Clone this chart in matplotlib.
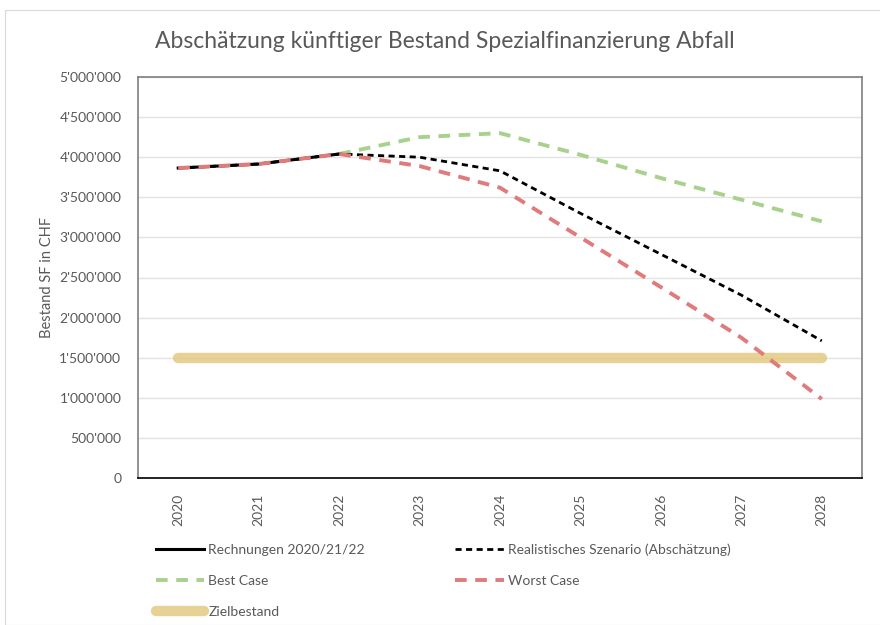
import matplotlib
matplotlib.use("Agg")
import matplotlib.pyplot as plt
from matplotlib.ticker import FuncFormatter, MultipleLocator
from matplotlib.patches import Rectangle

plt.rcParams['font.family'] = ['Lato', 'DejaVu Sans']

years = ['2020', '2021', '2022', '2023', '2024', '2025', '2026', '2027', '2028']
rechnungen = [3865000, 3915000, 4040000]
realistisch = [3865000, 3915000, 4040000, 4000000, 3830000, 3300000, 2790000, 2280000, 1710000]
best_case = [None, None, 4040000, 4250000, 4300000, 4030000, 3740000, 3470000, 3200000]
worst_case = [3865000, 3915000, 4040000, 3890000, 3620000, 3000000, 2380000, 1750000, 985000]
zielbestand = [1500000] * 9

grey = '#595959'

fig = plt.figure(figsize=(8.8, 6.25), dpi=100)
fig.patches.append(Rectangle((5 / 880, 0), 1, 1 - 10 / 625, transform=fig.transFigure,
                             fill=False, edgecolor='#D9D9D9', linewidth=0.8))
ax = fig.add_axes([138 / 880, 1 - 478 / 625, (862 - 138) / 880, (478 - 77) / 625])

x = list(range(len(years)))
best_x = [i for i, v in enumerate(best_case) if v is not None]
best_y = [v for v in best_case if v is not None]

l_ziel, = ax.plot(x, zielbestand, color='#E2C67A', lw=7.5, alpha=0.8,
                  solid_capstyle='round', label='Zielbestand', zorder=2)
l_rech, = ax.plot(x[:3], rechnungen, color='black', lw=2.2, label='Rechnungen 2020/21/22', zorder=3)
l_real, = ax.plot(x, realistisch, color='black', lw=2, ls=(0, (2.2, 1.6)),
                  label='Realistisches Szenario (Abschätzung)', zorder=4)
l_best, = ax.plot(best_x, best_y, color='#A9D18E', lw=2.8, ls=(0, (3, 2.2)), label='Best Case', zorder=3)
l_worst, = ax.plot(x, worst_case, color='#E07B7B', lw=2.8, ls=(0, (3, 2.2)), label='Worst Case', zorder=5)

ax.set_xlim(-0.5, len(years) - 0.5)
ax.set_ylim(0, 5000000)
ax.yaxis.set_major_locator(MultipleLocator(500000))
ax.yaxis.set_major_formatter(FuncFormatter(lambda v, p: f"{int(v):,}".replace(',', "'")))
ax.set_xticks(x)
ax.set_xticklabels(years, rotation=90)
ax.grid(axis='y', color='#E3E3E3', lw=1)
ax.set_axisbelow(True)

for s in ['left', 'right', 'top']:
    ax.spines[s].set_color('#7F7F7F')
    ax.spines[s].set_linewidth(1.2)
ax.spines['bottom'].set_color('black')
ax.spines['bottom'].set_linewidth(1.2)
ax.tick_params(axis='y', length=0, labelsize=10, colors=grey, pad=12)
ax.tick_params(axis='x', length=0, labelsize=10, colors=grey, pad=11)

ax.set_ylabel('Bestand SF in CHF', fontsize=10.5, color=grey, labelpad=4)
fig.text(445 / 880, 1 - 42 / 625, 'Abschätzung künftiger Bestand Spezialfinanzierung Abfall',
         ha='center', va='center', fontsize=16.5, color=grey)

handles = [l_rech, l_best, l_ziel, l_real, l_worst]
fig.legend(handles=handles, loc='upper left', bbox_to_anchor=(150 / 880, 1 - 538 / 625),
           ncol=2, frameon=False, fontsize=10, labelcolor=grey, handlelength=3.5,
           handletextpad=0.3, columnspacing=6.5, labelspacing=1.35, borderaxespad=0)

fig.savefig('out.png', dpi=100)
